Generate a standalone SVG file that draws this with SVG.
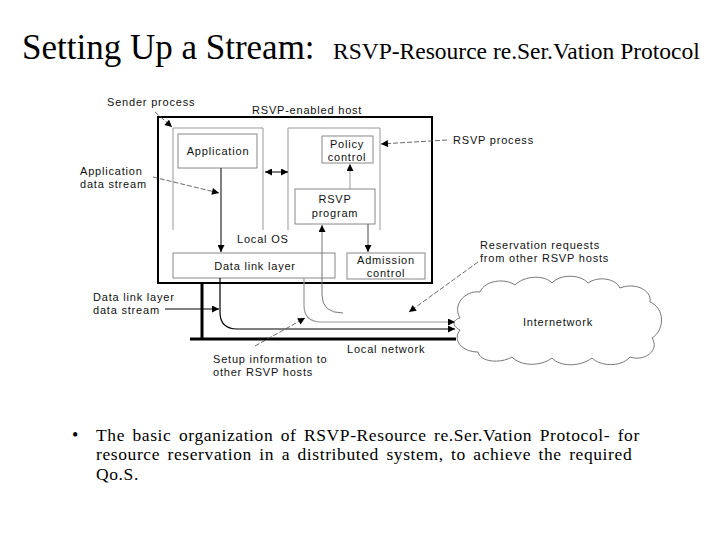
<svg xmlns="http://www.w3.org/2000/svg" width="720" height="540" viewBox="0 0 720 540">
<defs>
<marker id="ah" viewBox="0 0 10 10" refX="10" refY="5" markerWidth="8" markerHeight="7" markerUnits="userSpaceOnUse" orient="auto-start-reverse">
<path d="M0,0 L10,5 L0,10 Z" fill="#000"/>
</marker>
<style>
.lbl{font-family:"Liberation Sans",Arial,sans-serif;font-size:11px;letter-spacing:0.8px;fill:#111}
.mid{text-anchor:middle}
.box{fill:#fff;stroke:#888;stroke-width:1}
.frame{fill:none;stroke:#999;stroke-width:1}
.lead{fill:none;stroke:#444;stroke-width:0.8;stroke-dasharray:5,2}
.ser{font-family:"Liberation Serif","Times New Roman",serif;fill:#000}
</style>
</defs>
<rect width="720" height="540" fill="#fff"/>
<text class="ser" x="22" y="59" font-size="35">Setting Up a Stream: <tspan x="333" font-size="23.5">RSVP-Resource re.Ser.Vation Protocol</tspan></text>

<g id="host"><rect x="158" y="117" width="274" height="166" fill="none" stroke="#000" stroke-width="2"/></g>
<g id="sender-process"><path class="frame" d="M173,230 L173,128 L263,128 L263,230"/></g>
<g id="rsvp-process"><path class="frame" d="M288,230 L288,128 L380,128 L380,230"/></g>
<g id="application"><rect class="box" x="178" y="134" width="79" height="34"/><text class="lbl mid" x="218" y="155">Application</text></g>
<g id="policy"><rect class="box" x="322" y="136" width="51" height="27"/><text class="lbl mid" x="347" y="147.5">Policy</text><text class="lbl mid" x="347" y="160.5">control</text></g>
<g id="rsvp-program"><rect class="box" x="295" y="189" width="80" height="35"/><text class="lbl mid" x="335" y="203">RSVP</text><text class="lbl mid" x="335" y="217">program</text></g>
<g id="datalink"><rect class="box" x="173" y="253" width="162" height="25"/><text class="lbl mid" x="255" y="269.5">Data link layer</text></g>
<g id="admission"><rect class="box" x="347" y="253" width="78" height="26"/><text class="lbl mid" x="386" y="263.5">Admission</text><text class="lbl mid" x="386" y="276.5">control</text></g>
<g id="internetwork">
<path d="M460,318 C452,305 465,290 480,292 C485,280 505,278 515,285 C525,275 545,275 552,283 C560,274 580,274 588,283 C598,276 615,278 620,288 C635,282 652,290 650,302 C665,308 665,330 652,338 C660,350 645,362 630,357 C620,368 600,366 592,358 C580,367 560,367 552,358 C540,367 520,366 512,357 C500,364 480,362 478,352 C462,352 452,340 460,330 C452,326 452,320 460,318 Z" fill="#fff" stroke="#555" stroke-width="0.8"/>
<text class="lbl mid" x="558" y="326">Internetwork</text>
</g>

<g id="connectors">
<line x1="221" y1="168" x2="221" y2="252" stroke="#000" stroke-width="1" marker-end="url(#ah)"/>
<line x1="265" y1="172" x2="288" y2="172" stroke="#000" stroke-width="1" marker-start="url(#ah)" marker-end="url(#ah)"/>
<line x1="350" y1="189" x2="350" y2="164" stroke="#999" stroke-width="1" marker-end="url(#ah)"/>
<line x1="368" y1="224" x2="368" y2="252" stroke="#444" stroke-width="1" marker-end="url(#ah)"/>
<path d="M343,313 Q322,313 322,295 L322,225" fill="none" stroke="#777" stroke-width="1" marker-end="url(#ah)"/>
<path d="M304,278 L304,305 Q304,322 321,322 L455,322" fill="none" stroke="#999" stroke-width="1.2" marker-end="url(#ah)"/>
<path d="M220,278 L220,312 Q220,329 237,329 L455,329" fill="none" stroke="#000" stroke-width="1.2" marker-end="url(#ah)"/>
<line x1="202" y1="283" x2="202" y2="340" stroke="#000" stroke-width="3"/>
<line x1="190" y1="339" x2="456" y2="339" stroke="#000" stroke-width="3"/>
<line class="lead" x1="155" y1="112" x2="172" y2="127" marker-end="url(#ah)"/>
<line class="lead" x1="153" y1="177" x2="219" y2="193" marker-end="url(#ah)"/>
<line class="lead" x1="447" y1="140" x2="381" y2="144" marker-end="url(#ah)"/>
<line class="lead" x1="478" y1="262" x2="409" y2="312" marker-end="url(#ah)"/>
<line class="lead" x1="255" y1="346" x2="305" y2="318" marker-end="url(#ah)"/>
<line x1="165" y1="309" x2="219" y2="309" stroke="#000" stroke-width="1" marker-end="url(#ah)"/>
</g>

<g id="labels">
<text class="lbl" x="107" y="106">Sender process</text>
<text class="lbl" x="252" y="114">RSVP-enabled host</text>
<text class="lbl" x="80" y="174.5">Application</text>
<text class="lbl" x="80" y="187.5">data stream</text>
<text class="lbl" x="453" y="144">RSVP process</text>
<text class="lbl" x="237" y="243">Local OS</text>
<text class="lbl" x="480" y="248.5">Reservation requests</text>
<text class="lbl" x="480" y="261.5">from other RSVP hosts</text>
<text class="lbl" x="93" y="300.5">Data link layer</text>
<text class="lbl" x="93" y="313.5">data stream</text>
<text class="lbl" x="347" y="353">Local network</text>
<text class="lbl" x="213" y="362.5">Setup information to</text>
<text class="lbl" x="213" y="375.5">other RSVP hosts</text>
</g>

<g id="bullet">
<text class="ser" x="72" y="441" font-size="18">•</text>
<text class="ser" font-size="17.5" letter-spacing="0.6" word-spacing="2.5"><tspan x="96" y="440.5">The basic organization of RSVP-Resource re.Ser.Vation Protocol- for</tspan><tspan x="96" y="460">resource reservation in a distributed system, to achieve the required</tspan><tspan x="96" y="479.5">Qo.S.</tspan></text>
</g>
</svg>
